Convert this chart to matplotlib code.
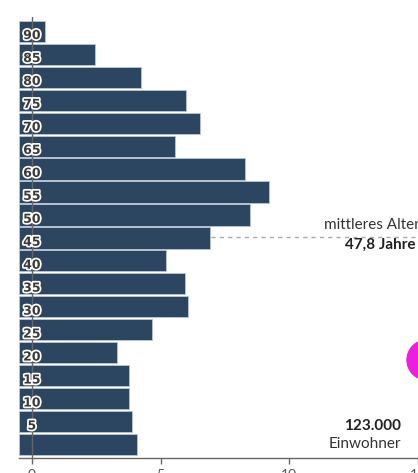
import matplotlib
matplotlib.use("Agg")
import matplotlib.pyplot as plt
import matplotlib.patheffects as pe
from matplotlib.patches import Circle

# age groups (lower bound of each 5-year band) and share of population in %
age_groups = [90, 85, 80, 75, 70, 65, 60, 55, 50, 45, 40, 35, 30, 25, 20, 15, 10, 5, 0]
shares = [0.51, 2.45, 4.24, 5.99, 6.53, 5.56, 8.28, 9.21, 8.47, 6.92,
          5.21, 5.95, 6.06, 4.66, 3.32, 3.77, 3.77, 3.89, 4.08]
median_age = 47.8
median_label = "47,8 Jahre"
population_label = "123.000"
x_ticks = [0, 5, 10, 15]

bar_color = "#2c4560"
axis_grey = "#666666"
text_font = ["Lato", "DejaVu Sans"]

fig = plt.figure(figsize=(4.18, 4.73), dpi=100)
ax = fig.add_axes([19 / 418, 15 / 473, 399 / 418, 441 / 473])

x0, x1 = -0.5, 15.0
ax.set_xlim(x0, x1)
ax.set_ylim(-0.4, 95.6)

band = 5
ax.barh([a + band / 2 for a in age_groups], [s - x0 for s in shares], left=x0,
        height=band * 0.92, color=bar_color, edgecolor="#b9c6d3", linewidth=0.6,
        zorder=2)

# vertical zero line across the plot
ax.axvline(0, color=axis_grey, linewidth=1, zorder=3)

# age labels sit on the zero line at the band boundaries
halo = [pe.withStroke(linewidth=2.5, foreground="white")]
for a in age_groups:
    if a == 0:
        continue
    ax.annotate(str(a), (0, a), xytext=(0, 0.5), textcoords="offset points",
                ha="center", va="bottom", fontsize=9, color="#3a3a3a",
                fontweight="bold", path_effects=halo, zorder=4)

# median age marker
median_group = max(a for a in age_groups if a <= median_age)
median_share = shares[age_groups.index(median_group)]
ax.plot([median_share + 0.05, x1], [median_age, median_age], color="#aaaaaa",
        linewidth=1, linestyle=(0, (3, 3)), zorder=1)
ax.text(11.35, median_age + 2.6, "mittleres Alter", fontsize=11, family=text_font,
        color="#333333", ha="left", va="center")
ax.text(12.16, median_age - 1.8, median_label, fontsize=11, family=text_font,
        fontweight="bold", color="#222222", ha="left", va="center")

# total population
ax.text(14.33, 6.6, population_label, fontsize=11, family=text_font,
        fontweight="bold", color="#222222", ha="right", va="center")
ax.text(14.33, 2.6, "Einwohner", fontsize=11, family=text_font,
        color="#333333", ha="right", va="center")

for side in ["top", "right", "left"]:
    ax.spines[side].set_visible(False)
ax.spines["bottom"].set_color(axis_grey)
ax.spines["bottom"].set_linewidth(1)
ax.set_yticks([])
ax.set_xticks(x_ticks)
ax.tick_params(axis="x", length=4, width=1, color=axis_grey, labelcolor="#555555",
               labelsize=10, pad=4)
for lbl in ax.get_xticklabels():
    lbl.set_family(text_font)

# pink marker at the right edge, kept round in inches
fig.patches.append(Circle((4.27, (473 - 360) / 100), 0.2,
                          transform=fig.dpi_scale_trans, color="#ee1ddf",
                          clip_on=False))

fig.savefig("out.png", dpi=100)
